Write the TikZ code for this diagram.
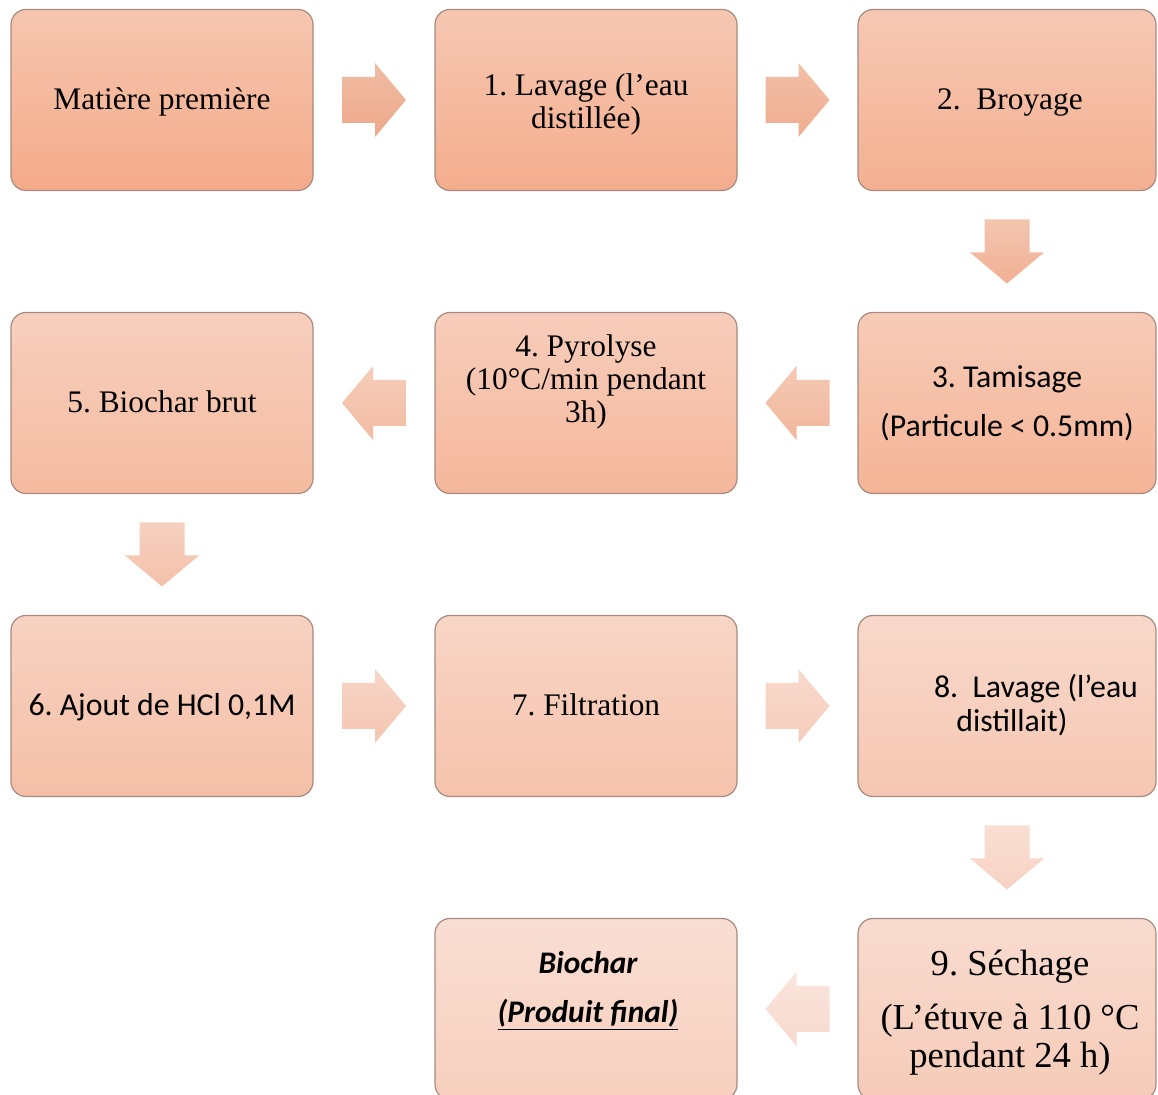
\documentclass[tikz,border=0pt]{standalone}
\usepackage{fontspec}
\setmainfont{Liberation Serif}
\newfontfamily\calib{Carlito}
\usetikzlibrary{calc}
\frenchspacing
% box colours (top / bottom)
\definecolor{bt1}{RGB}{246,198,176}\definecolor{bb1}{RGB}{244,170,137}
\definecolor{bt2}{RGB}{246,199,178}\definecolor{bb2}{RGB}{244,173,141}
\definecolor{bt3}{RGB}{246,200,180}\definecolor{bb3}{RGB}{244,176,145}
\definecolor{bt4}{RGB}{247,203,184}\definecolor{bb4}{RGB}{245,180,150}
\definecolor{bt5}{RGB}{247,205,187}\definecolor{bb5}{RGB}{245,183,155}
\definecolor{bt6}{RGB}{247,207,190}\definecolor{bb6}{RGB}{245,187,160}
\definecolor{bt7}{RGB}{247,210,194}\definecolor{bb7}{RGB}{245,191,166}
\definecolor{bt8}{RGB}{248,213,198}\definecolor{bb8}{RGB}{246,195,172}
\definecolor{bt9}{RGB}{248,216,203}\definecolor{bb9}{RGB}{246,199,178}
\definecolor{bt10}{RGB}{248,219,207}\definecolor{bb10}{RGB}{246,203,184}
\definecolor{bt11}{RGB}{249,222,211}\definecolor{bb11}{RGB}{247,207,190}
% arrow colours
\definecolor{at1}{RGB}{240,188,163}\definecolor{ab1}{RGB}{238,168,138}
\definecolor{at2}{RGB}{241,192,168}\definecolor{ab2}{RGB}{239,172,143}
\definecolor{at3}{RGB}{243,197,175}\definecolor{ab3}{RGB}{241,176,148}
\definecolor{at4}{RGB}{244,201,181}\definecolor{ab4}{RGB}{242,182,155}
\definecolor{at5}{RGB}{245,205,186}\definecolor{ab5}{RGB}{243,187,162}
\definecolor{at6}{RGB}{246,209,192}\definecolor{ab6}{RGB}{244,192,170}
\definecolor{at7}{RGB}{247,213,198}\definecolor{ab7}{RGB}{245,198,178}
\definecolor{at8}{RGB}{248,218,205}\definecolor{ab8}{RGB}{246,204,186}
\definecolor{at9}{RGB}{249,223,212}\definecolor{ab9}{RGB}{247,210,194}
\definecolor{at10}{RGB}{250,229,220}\definecolor{ab10}{RGB}{248,217,205}
\definecolor{edgec}{RGB}{168,138,128}
\newcommand\blkR[3]{\shade[top color=#2, bottom color=#3, shift={(#1)}] (-32,-23) -- (1,-23) -- (1,-37) -- (32,0) -- (1,37) -- (1,23) -- (-32,23) -- cycle;}
\newcommand\blkL[3]{\shade[top color=#2, bottom color=#3, shift={(#1)}] (32,-23) -- (-1,-23) -- (-1,-37) -- (-32,0) -- (-1,37) -- (-1,23) -- (32,23) -- cycle;}
\newcommand\blkD[3]{\shade[top color=#2, bottom color=#3, shift={(#1)}] (-22.5,-32) -- (22.5,-32) -- (22.5,1) -- (37,1) -- (0,32) -- (-37,1) -- (-22.5,1) -- cycle;}
\tikzset{
  box/.style={draw=edgec, line width=0.6pt, rounded corners=7.5pt,
    minimum width=151pt, minimum height=90.5pt, inner sep=0pt},
  boxr/.style={box, minimum width=149pt},
  one/.style={text height=12pt, text depth=2pt},
  ser/.style={font=\fontsize{15.7}{16.5}\selectfont, align=center, inner sep=0pt},
  serbig/.style={font=\fontsize{18.3}{19}\selectfont, align=center, inner sep=0pt},
  sans/.style={font=\calib\fontsize{15.9}{17}\selectfont, align=center, inner sep=0pt},
}
\begin{document}
\begin{tikzpicture}[x=0.5pt, y=-0.5pt]
\useasboundingbox (0,0) rectangle (1158,1095);
\clip (0,0) rectangle (1158,1095);
% row 1
\node[box, top color=bt1, bottom color=bb1, ser, one] (b1) at (162,100) {Matière première};
\node[box, top color=bt2, bottom color=bb2] (b2) at (586,100) {};
\node[boxr, top color=bt3, bottom color=bb3, ser, one] (b3) at (1007,100) {\hspace*{3pt}2.\ \ Broyage};
% row 2
\node[boxr, top color=bt4, bottom color=bb4, sans, font=\calib\fontsize{15.9}{24.5}\selectfont] (b4) at (1007,403) {3. Tamisage\\ (Particule < 0.5mm)};
\node[box, top color=bt5, bottom color=bb5] (b5) at (586,403) {};
\node[box, top color=bt6, bottom color=bb6, ser, one] (b6) at (162,403) {5. Biochar brut};
% row 3
\node[box, top color=bt7, bottom color=bb7, sans, one] (b7) at (162,706) {6. Ajout de HCl 0,1M};
\node[box, top color=bt8, bottom color=bb8, ser, one] (b8) at (586,706) {7. Filtration};
\node[boxr, top color=bt9, bottom color=bb9] (b9) at (1007,706) {};
% row 4
\node[boxr, top color=bt10, bottom color=bb10] (b10) at (1007,1009) {};
\node[box, top color=bt11, bottom color=bb11] (b11) at (586,1009) {};
% texts placed off-centre
\node[ser] (t2) at ($(b2.center)+(0,4)$) {1. Lavage (l’eau\\distillée)};
\node[ser] (t5) at ($(b5.center)+(0,-21)$) {4. Pyrolyse\\(10°C/min pendant\\3h)};
\node[sans] (t9) at ($(b9.center)+(29,-1)$) {8.\ \ Lavage (l’eau\\distillait)\hspace*{24pt}};
\node[serbig] (t10) at ($(b10.center)+(3,4)$) {9. Séchage\\[8pt](L’étuve à 110 °C\\pendant 24 h)};
\node[sans, font=\calib\bfseries\itshape\fontsize{15.7}{24.5}\selectfont] (t11) at ($(b11.center)+(2,-18)$) {Biochar\\ \underline{(Produit final)}};
% arrow positions
\coordinate (m1) at ($(b1.east)!0.5!(b2.west)$);
\coordinate (m2) at ($(b2.east)!0.5!(b3.west)$);
\coordinate (m3) at ($(b3.south)!0.5!(b4.north)$);
\coordinate (m4) at ($(b4.west)!0.5!(b5.east)$);
\coordinate (m5) at ($(b5.west)!0.5!(b6.east)$);
\coordinate (m6) at ($(b6.south)!0.5!(b7.north)$);
\coordinate (m7) at ($(b7.east)!0.5!(b8.west)$);
\coordinate (m8) at ($(b8.east)!0.5!(b9.west)$);
\coordinate (m9) at ($(b9.south)!0.5!(b10.north)$);
\coordinate (m10) at ($(b10.west)!0.5!(b11.east)$);
\blkR{m1}{at1}{ab1}
\blkR{m2}{at2}{ab2}
\blkD{m3}{at3}{ab3}
\blkL{m4}{at4}{ab4}
\blkL{m5}{at5}{ab5}
\blkD{m6}{at6}{ab6}
\blkR{m7}{at7}{ab7}
\blkR{m8}{at8}{ab8}
\blkD{m9}{at9}{ab9}
\blkL{m10}{at10}{ab10}
\end{tikzpicture}
\end{document}
